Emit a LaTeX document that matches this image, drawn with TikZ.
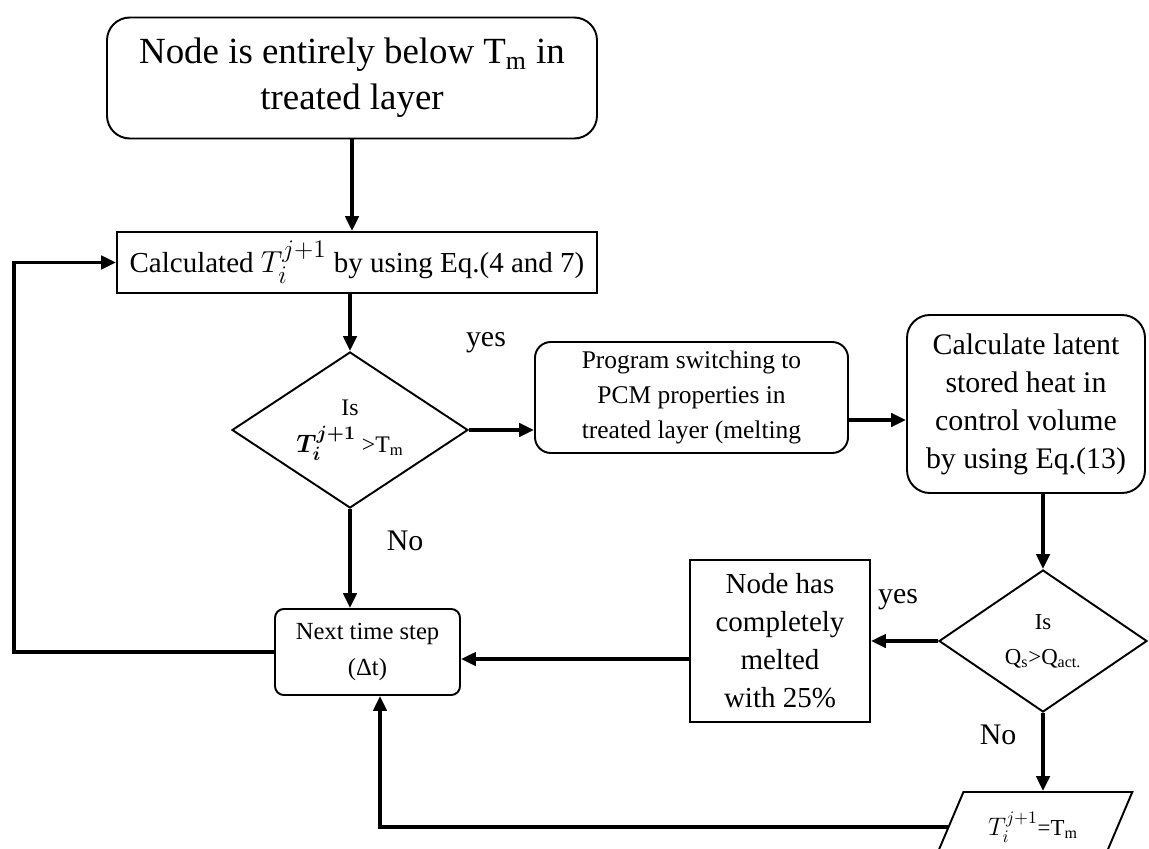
\documentclass[tikz,border=0pt]{standalone}
\usepackage{amsmath}
\usepackage{fontspec}
\setmainfont{Liberation Serif}
\usetikzlibrary{shapes.geometric,arrows.meta,positioning}

\begin{document}
\begin{tikzpicture}[on grid,auto,node distance=2cm,
    rbox/.style={draw,line width=1.1pt,rounded corners=#1,align=center,inner sep=1pt},
    rbox/.default=8pt,
    sbox/.style={draw,line width=1.1pt,align=center,inner sep=1pt},
    decision/.style={diamond,draw,line width=1.1pt,align=center,inner sep=0pt,aspect=1.5},
    io/.style={trapezium,trapezium left angle=58,trapezium right angle=122,
               trapezium stretches=true,draw,line width=1.1pt,inner sep=0pt},
    lbl/.style={font=\fontsize{17}{20}\selectfont},
    flow/.style={line width=2.2pt,-{Triangle[length=8.5pt,width=7.5pt]}}]

   \useasboundingbox (0,0) rectangle (22.98,-16.98);
   \clip (0,0) rectangle (22.98,-16.98);

   \node[rbox=13pt] (start) at (7.04,-1.56) [minimum width=9.8cm,minimum height=2.42cm,
        font=\fontsize{21}{26}\selectfont]
        {Node is entirely below T\textsubscript{m} in\\treated layer};
   \node[sbox] (calc) [below=3.69cm of start,xshift=0.1cm,minimum width=9.6cm,
        minimum height=1.22cm,font=\fontsize{16.5}{20}\selectfont]
        {Calculated {\fontsize{19}{20}\selectfont$T_i^{j+1}$} by using Eq.(4 and 7)};
   \node[decision] (isT) [below=3.35cm of calc,xshift=-0.14cm,minimum width=4.72cm,
        minimum height=3.12cm,font=\fontsize{13.5}{17}\selectfont]
        {Is\\[4pt]{\fontsize{15}{17}\selectfont$\boldsymbol{T_i^{j+1}}$} >T\textsubscript{m}};
   \node[rbox=9pt] (pcm) [above right=0.65cm and 6.83cm of isT,minimum width=6.26cm,
        minimum height=2.22cm,font=\fontsize{14.5}{20}\selectfont]
        {Program switching to\\PCM properties in\\treated layer (melting};
   \node[rbox=13pt] (latent) [below right=0.13cm and 6.69cm of pcm,minimum width=4.76cm,
        minimum height=3.56cm,font=\fontsize{17}{21.6}\selectfont]
        {Calculate latent\\stored heat in\\control volume\\by using Eq.(13)};
   \node[decision] (isQ) [below right=4.74cm and 0.34cm of latent,minimum width=4.16cm,
        minimum height=2.84cm,font=\fontsize{13}{20}\selectfont]
        {Is\\Q\textsubscript{s}>Q\textsubscript{act.}};
   \node[sbox] (melted) [left=5.26cm of isQ,minimum width=3.6cm,minimum height=3.24cm,
        font=\fontsize{16.5}{21.6}\selectfont]
        {Node has\\completely\\melted\\with 25\%};
   \node[rbox=5pt] (next) [below right=4.44cm and 0.35cm of isT,minimum width=3.7cm,
        minimum height=1.72cm,font=\fontsize{14}{21}\selectfont]
        {Next time step\\(Δt)};
   \node[io] (setT) [below left=3.72cm and 0.2cm of isQ,minimum width=3.98cm,
        minimum height=1.4cm,font=\fontsize{13}{16}\selectfont]
        {{\fontsize{14.5}{16}\selectfont$T_i^{j+1}$}=T\textsubscript{m}};

   \node[lbl] (yesT) [above right=1.74cm and 0.34cm of isT.east,anchor=center] {yes};
   \node[lbl] (noT)  [below right=0.64cm and 1.1cm of isT.south,anchor=center] {No};
   \node[lbl] (yesQ) [above left=0.82cm and 0.8cm of isQ.west,anchor=center] {yes};
   \node[lbl] (noQ)  [below left=0.44cm and 0.9cm of isQ.south,anchor=center] {No};

   \path[flow]
        (start.south |- start.south) edge (start.south |- calc.north)
        (isT.north |- calc.south) edge (isT.north)
        (isT.east) edge (isT.east -| pcm.west)
        ([yshift=-0.45cm]pcm.east) edge ([yshift=-0.45cm]pcm.east -| latent.west)
        (latent.south -| isQ.north) edge (isQ.north)
        (isQ.west) edge (isQ.west -| melted.east)
        ([yshift=-0.36cm]melted.west) edge ([yshift=-0.36cm]melted.west -| next.east)
        (isT.south) edge (isT.south |- next.north)
        (isQ.south) edge (isQ.south |- setT.north)
        ;
   \draw[flow] (next.west) -- ++(-5.2,0) |- (calc.west);
   \draw[flow] (setT.left side) -| ([xshift=0.25cm]next.south);

\end{tikzpicture}
\end{document}
